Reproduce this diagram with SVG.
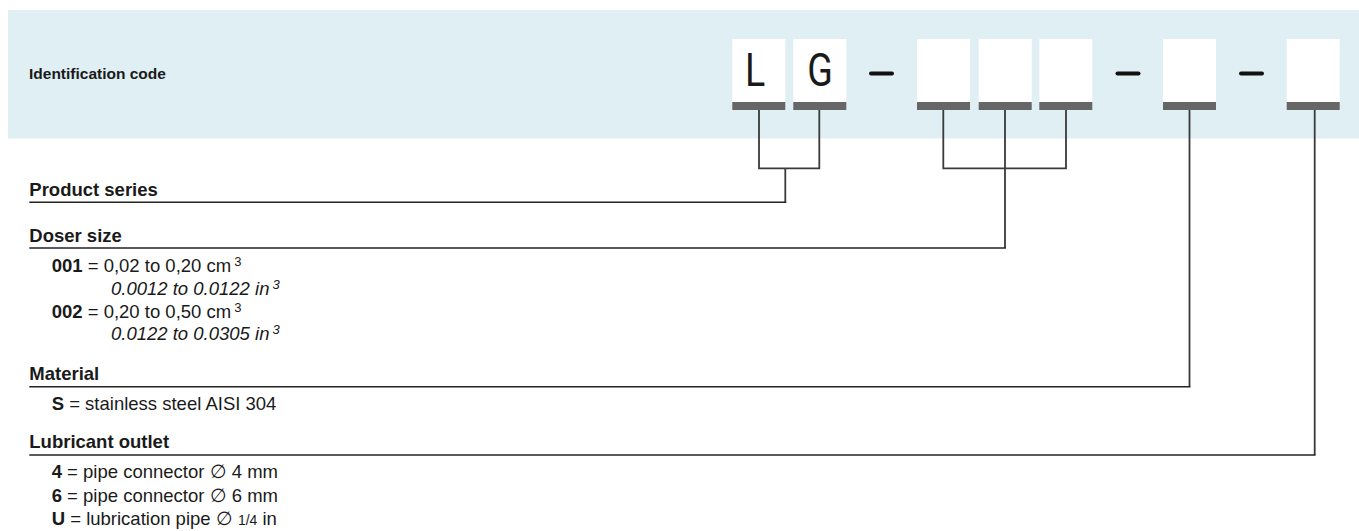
<svg xmlns="http://www.w3.org/2000/svg" width="1359" height="531" viewBox="0 0 1359 531">
<style>
text{font-family:"Liberation Sans",Arial,sans-serif;fill:#1a1a1a}
.h{font-weight:bold;font-size:18.5px}
.b{font-size:18.5px}
.k{font-weight:bold}
.i{font-style:italic}
.sup{font-size:13px}
.box{fill:#ffffff}
.bar{fill:#666666}
.dash{stroke:#111;stroke-width:4;stroke-linecap:round}
.code{font-family:Roboto,"Liberation Sans",sans-serif;font-weight:400;font-size:47px;text-anchor:middle}
.c{fill:none;stroke:#3a3a3a;stroke-width:1.8}
.u{fill:none;stroke:#222;stroke-width:1.6}
</style>
<rect x="8" y="10" width="1351" height="128.5" fill="#dfeff4"/>
<g id="title"><text x="29" y="79" style="font-weight:bold;font-size:15.5px">Identification code</text></g>
<g id="code">
<g id="box1"><rect class="box" x="732.3" y="39" width="53" height="63"/><rect class="bar" x="732.3" y="102" width="53" height="8"/><text class="code" transform="translate(755 86) scale(0.8 1)">L</text></g>
<g id="box2"><rect class="box" x="793.3" y="39" width="53" height="63"/><rect class="bar" x="793.3" y="102" width="53" height="8"/><text class="code" transform="translate(820 86) scale(0.8 1)">G</text></g>
<line class="dash" x1="871" y1="73.5" x2="892" y2="73.5"/>
<g id="box3"><rect class="box" x="917" y="39" width="53" height="63"/><rect class="bar" x="917" y="102" width="53" height="8"/></g>
<g id="box4"><rect class="box" x="978.7" y="39" width="53" height="63"/><rect class="bar" x="978.7" y="102" width="53" height="8"/></g>
<g id="box5"><rect class="box" x="1039.3" y="39" width="53" height="63"/><rect class="bar" x="1039.3" y="102" width="53" height="8"/></g>
<line class="dash" x1="1117.5" y1="73.5" x2="1138.5" y2="73.5"/>
<g id="box6"><rect class="box" x="1163" y="39" width="53" height="63"/><rect class="bar" x="1163" y="102" width="53" height="8"/></g>
<line class="dash" x1="1241" y1="73.5" x2="1262" y2="73.5"/>
<g id="box7"><rect class="box" x="1286.7" y="39" width="53" height="63"/><rect class="bar" x="1286.7" y="102" width="53" height="8"/></g>
</g>
<g id="connectors">
<path class="c" d="M759 110V168.3H819.3V110M785.3 168.3V202.3"/>
<path class="c" d="M943.3 110V168.3H1066V110M1005 110V248"/>
<path class="c" d="M1189.5 110V386.7"/>
<path class="c" d="M1314.7 110V455"/>
<path class="u" d="M29.3 202.3H786.2"/>
<path class="u" d="M29.3 248H1005.9"/>
<path class="u" d="M29.3 386.7H1190.4"/>
<path class="u" d="M29.3 455H1315.6"/>
</g>
<g id="product-series"><text class="h" x="29.3" y="196">Product series</text></g>
<g id="doser-size">
<text class="h" x="29.3" y="241.7">Doser size</text>
<text class="b" x="51.7" y="271.7"><tspan class="k">001</tspan> = 0,02 to 0,20 cm<tspan class="sup" dx="3" dy="-6">3</tspan></text>
<text class="b i" x="111" y="295">0.0012 to 0.0122 in<tspan class="sup" dx="3" dy="-6">3</tspan></text>
<text class="b" x="51.7" y="318.3"><tspan class="k">002</tspan> = 0,20 to 0,50 cm<tspan class="sup" dx="3" dy="-6">3</tspan></text>
<text class="b i" x="111" y="340">0.0122 to 0.0305 in<tspan class="sup" dx="3" dy="-6">3</tspan></text>
</g>
<g id="material">
<text class="h" x="29.3" y="380">Material</text>
<text class="b" x="51.7" y="410"><tspan class="k">S</tspan> = stainless steel AISI 304</text>
</g>
<g id="lubricant-outlet">
<text class="h" x="29.3" y="448.3">Lubricant outlet</text>
<text class="b" x="51.7" y="478.3"><tspan class="k">4</tspan> = pipe connector ∅ 4 mm</text>
<text class="b" x="51.7" y="501.7"><tspan class="k">6</tspan> = pipe connector ∅ 6 mm</text>
<text class="b" x="51.7" y="525"><tspan class="k">U</tspan> = lubrication pipe ∅ <tspan style="font-size:14px">1/4</tspan> in</text>
</g>
</svg>
